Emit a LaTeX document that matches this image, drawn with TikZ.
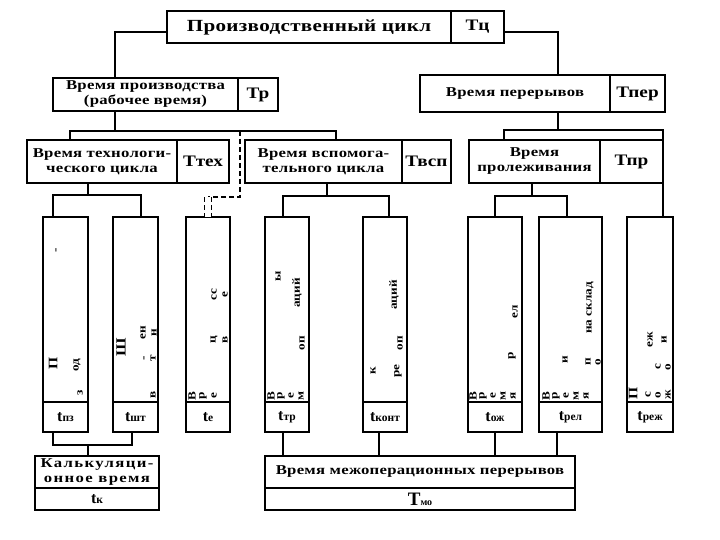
\documentclass[tikz,border=0pt]{standalone}
\usepackage{fontspec}
\setmainfont{Liberation Serif}
\newfontfamily\spc[FakeStretch=1.24, LetterSpace=2]{Liberation Serif}
\newfontfamily\spcw[FakeStretch=1.24, LetterSpace=10]{Liberation Serif}
\newfontfamily\spcl[FakeStretch=1.2]{Liberation Serif}
\begin{document}
\begin{tikzpicture}[x=1pt,y=-1pt,
  box/.style={draw, line width=1.3pt, inner sep=0pt, outer sep=0pt, align=center,
    font=\spc\bfseries\fontsize{13.5}{15}\selectfont},
  big/.style={font=\spcl\bfseries\fontsize{16}{16}\selectfont},
  frag/.style={rotate=90, inner sep=0pt, font=\spcl\bfseries\fontsize{11}{11}\selectfont},
  conn/.style={line width=1.3pt},
  dconn/.style={line width=2pt, dash pattern=on 5pt off 3pt}]
\useasboundingbox (0,0) rectangle (720,540);
\newcommand\bx[7][]{\node[box,#1, minimum width={(#5-#3)*1pt}, minimum height={(#6-#4)*1pt}] (#2) at ({(#3+#5)/2},{(#4+#6)/2}) {#7};}
\newcommand\tl[1]{{\rmfamily\bfseries\fontsize{16}{16}\selectfont t}{\rmfamily\bfseries\fontsize{11.5}{11.5}\selectfont #1}}
% level 1
\bx[font=\spc\bfseries\fontsize{17}{17}\selectfont]{pcL}{167}{11}{451}{43}{Производственный цикл}
\bx[big]{pcR}{451}{11}{504}{43}{Тц}
% level 2
\bx{trL}{53}{78}{238}{111}{Время производства\\(рабочее время)}
\bx[big]{trR}{238}{78}{278}{111}{Тр}
\bx{tperL}{420}{75}{610}{112}{Время перерывов}
\bx[big]{tperR}{610}{75}{665}{112}{Тпер}
% level 3
\bx{ttexL}{27}{140}{177}{183}{Время технологи-\\ческого цикла}
\bx[big]{ttexR}{177}{140}{229}{183}{Ттех}
\bx{tvspL}{245}{140}{402}{183}{Время вспомога-\\тельного цикла}
\bx[big]{tvspR}{402}{140}{451}{183}{Твсп}
\bx{tprL}{469}{140}{600}{183}{Время\\пролеживания}
\bx[big]{tprR}{600}{140}{663}{183}{Тпр}
% level 4 vertical boxes
\bx{b1}{43}{217}{88}{402}{}
\bx{b1s}{43}{402}{88}{432}{\tl{пз}}
\bx{b2}{113}{217}{158}{402}{}
\bx{b2s}{113}{402}{158}{432}{\tl{шт}}
\bx{b3}{186}{217}{230}{402}{}
\bx{b3s}{186}{402}{230}{432}{\tl{е}}
\bx{b4}{265}{217}{309}{402}{}
\bx{b4s}{265}{402}{309}{432}{\tl{тр}}
\bx{b5}{363}{217}{407}{402}{}
\bx{b5s}{363}{402}{407}{432}{\tl{конт}}
\bx{b6}{468}{217}{522}{402}{}
\bx{b6s}{468}{402}{522}{432}{\tl{ож}}
\bx{b7}{539}{217}{602}{402}{}
\bx{b7s}{539}{402}{602}{432}{\tl{рел}}
\bx{b8}{627}{217}{673}{402}{}
\bx{b8s}{627}{402}{673}{432}{\tl{реж}}
% bottom
\bx[font=\spcw\bfseries\fontsize{13.5}{15}\selectfont]{kL}{35}{456}{159}{488}{Калькуляци-\\онное время}
\bx{kR}{35}{488}{159}{510}{\tl{к}}
\bx{tmoL}{265}{456}{575}{488}{Время межоперационных перерывов}
\bx{tmoR}{265}{488}{575}{510}{{\rmfamily\bfseries\fontsize{19}{19}\selectfont Т}{\rmfamily\bfseries\fontsize{10}{10}\selectfont мо}}
% fragments of vertical text
\node[frag] (f1a) at (57,250) {-};
\node[frag] (f1b) at (53,363) {\fontsize{13}{13}\selectfont П};
\node[frag] (f1c) at (77,365) {од};
\node[frag] (f1d) at (80,393) {з};
\node[frag] (f2a) at (121,347) {\fontsize{14}{14}\selectfont Ш};
\node[frag] (f2b) at (143,333) {ен};
\node[frag] (f2c) at (154,333) {н};
\node[frag] (f2d) at (145,358) {-};
\node[frag] (f2e) at (153,358) {т};
\node[frag] (f2f) at (153,395) {в};
\node[frag] (f3a) at (214,295) {сс};
\node[frag] (f3b) at (225,295) {е};
\node[frag] (f3c) at (214,340) {ц};
\node[frag] (f3d) at (225,340) {в};
\foreach \c [count=\i] in {В,р,е} \node[frag] (f3e\i) at (181+\i*11,396) {\c};
\node[frag] (f4a) at (278,276) {ы};
\node[frag] (f4b) at (297,293) {аций};
\node[frag] (f4c) at (302,343) {оп};
\foreach \c [count=\i] in {В,р,е,м} \node[frag] (f4e\i) at (261+\i*10,396) {\c};
\node[frag] (f5a) at (394,295) {аций};
\node[frag] (f5b) at (400,343) {оп};
\node[frag] (f5c) at (373,371) {к};
\node[frag] (f5d) at (398,371) {ре};
\node[frag] (f6a) at (515,312) {ел};
\node[frag] (f6b) at (512,356) {р};
\foreach \c [count=\i] in {В,р,е,м,я} \node[frag] (f6e\i) at (463+\i*10,396) {\c};
\node[frag] (f7a) at (590,308) {на склад};
\node[frag] (f7b) at (565,360) {и};
\node[frag] (f7c) at (588,362) {п};
\node[frag] (f7d) at (598,362) {о};
\foreach \c [count=\i] in {В,р,е,м,я} \node[frag] (f7e\i) at (536+\i*10,396) {\c};
\node[frag] (f8a) at (650,340) {еж};
\node[frag] (f8b) at (664,340) {и};
\node[frag] (f8c) at (658,367) {с};
\node[frag] (f8d) at (668,367) {о};
\node[frag] (f8e) at (633,393) {\fontsize{13}{13}\selectfont П};
\node[frag] (f8f) at (648,395) {с};
\node[frag] (f8g) at (658,395) {о};
\node[frag] (f8h) at (668,395) {ж};
% connectors
\draw[conn] ([yshift=-5pt]pcL.west) -| ([xshift=-30.5pt]trL.north);
\draw[conn] ([yshift=-5pt]pcR.east) -| ([xshift=43pt]tperL.north);
\coordinate (j1) at (115,131);
\draw[conn] ([xshift=-30.5pt]trL.south) -- (j1);
\draw[conn] ([xshift=-32pt]ttexL.north) |- (j1) -| ([xshift=12.5pt]tvspL.north);
\coordinate (d1) at (240,131);
\coordinate (d2) at (240,197);
\coordinate (d3) at (208,197);
\draw[dconn] (d1) -- (d2) -- (d3);
\draw[dconn, double, double distance=6pt, line width=1.4pt] (d3) -- (b3.north);
\coordinate (j2) at (88,195);
\draw[conn] ([xshift=-14pt]ttexL.south) -- (j2);
\draw[conn] ([xshift=-12.5pt]b1.north) |- (j2) -| ([xshift=5.5pt]b2.north);
\coordinate (j3) at (327,196);
\draw[conn] ([xshift=3.5pt]tvspL.south) -- (j3);
\draw[conn] ([xshift=-4pt]b4.north) |- (j3) -| ([xshift=4pt]b5.north);
\coordinate (j4) at (558,130);
\draw[conn] ([xshift=43pt]tperL.south) -- (j4);
\draw[conn] ([xshift=-30.5pt]tprL.north) |- (j4) -| ([xshift=13pt]b8.north);
\coordinate (j5) at (532,196);
\draw[conn] ([xshift=-2.5pt]tprL.south) -- (j5);
\draw[conn] (b6.north) |- (j5) -| ([xshift=-3.5pt]b7.north);
\coordinate (j6) at (88,445);
\draw[conn] ([xshift=-12.5pt]b1s.south) |- (j6) -| ([xshift=-3.5pt]b2s.south);
\draw[conn] (j6) -- ([xshift=-9pt]kL.north);
\draw[conn] ([xshift=-4pt]b4s.south) -- ([xshift=-4pt]b4s.south |- tmoL.north);
\draw[conn] ([xshift=-6pt]b5s.south) -- ([xshift=-6pt]b5s.south |- tmoL.north);
\draw[conn] (b6s.south) -- (b6s.south |- tmoL.north);
\draw[conn] ([xshift=-13.5pt]b7s.south) -- ([xshift=-13.5pt]b7s.south |- tmoL.north);
\end{tikzpicture}
\end{document}
